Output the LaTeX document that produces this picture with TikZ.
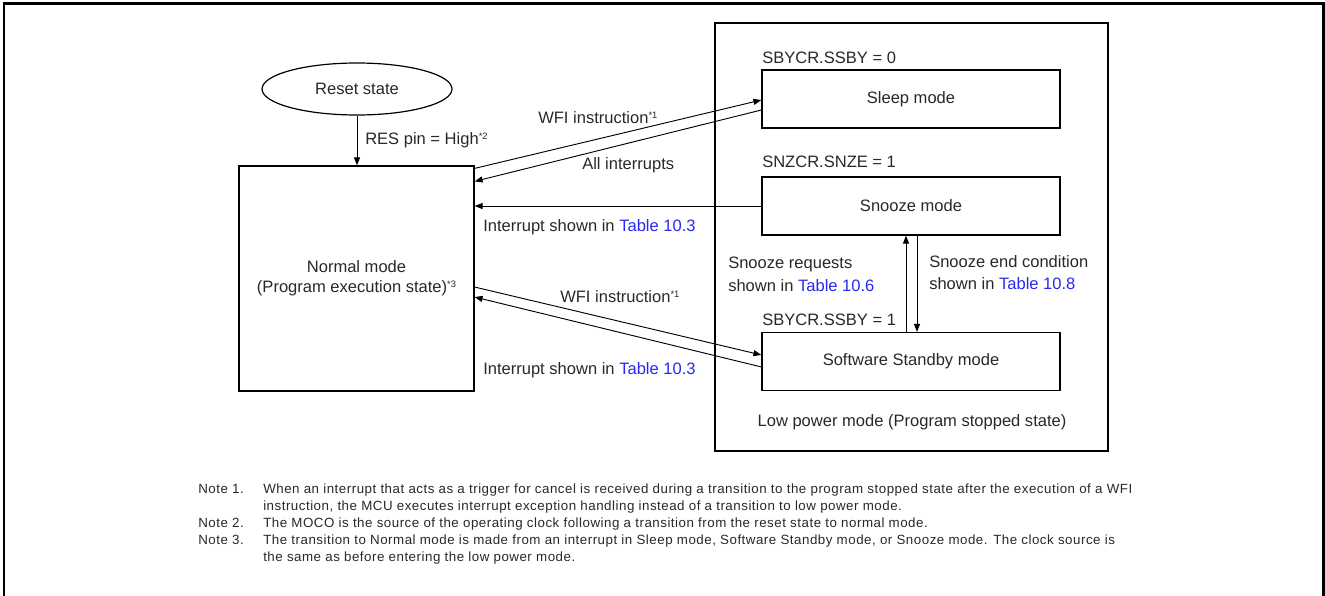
\documentclass[tikz,border=0pt]{standalone}
\usepackage{fontspec}
\setmainfont{Liberation Sans}
\usepackage{tikz}
\usetikzlibrary{positioning,calc,shapes.geometric,arrows.meta}
\definecolor{tableblue}{RGB}{40,40,240}
\definecolor{textgray}{RGB}{40,40,40}
\newcommand{\notemark}[1]{\raisebox{0.6ex}{\fontsize{7pt}{8pt}\selectfont*#1}}
\newcommand{\tabref}[1]{\textcolor{tableblue}{Table #1}}

\begin{document}
\begin{tikzpicture}[x=0.75pt,y=-0.75pt,
  mode/.style={draw=black, line width=0.9pt,
    minimum width=223.5pt, minimum height=43.5pt, inner sep=0pt,
    font=\fontsize{12.4pt}{15pt}\selectfont, text=textgray},
  lbl/.style={font=\fontsize{12.4pt}{17pt}\selectfont, text=textgray,
    inner sep=0pt, anchor=west, align=left},
  trans/.style={-{Triangle[length=6pt,width=4.5pt]}, line width=0.7pt},
  notetext/.style={font=\fontsize{10pt}{12.75pt}\selectfont\addfontfeature{LetterSpace=3.8},
    text=textgray, inner sep=0pt, anchor=north west, align=left}
  ]
  % page frame, open at the bottom
  \useasboundingbox (0,0) rectangle (1325,596);
  \draw[line width=1.7pt] (3.8,596) -- (3.8,3.5) -- (1323.5,3.5) -- (1323.5,596);

  % low power block
  \node[draw, line width=0.9pt, minimum width=294.75pt, minimum height=321pt] (lowpower) at (911.5,237) {};
  \node[lbl, anchor=center] (lowlabel) at (912,422) {Low power mode (Program stopped state)};

  \node[draw, ellipse, line width=0.9pt, minimum width=142.5pt, minimum height=39pt,
    font=\fontsize{12.4pt}{15pt}\selectfont, text=textgray] (reset) at (357,89) {Reset state};
  \node[mode, minimum width=176.25pt, minimum height=168.75pt, align=center] (normal) at (356.5,278.5)
    {Normal mode\\(Program execution state)\notemark{3}};

  \node[mode] (sleep) at (911,99) {Sleep mode};
  \node[mode] (snooze) at (911,206) {Snooze mode};
  \node[mode] (standby) at (911,361.5) {Software Standby mode};

  \node[lbl] (ssby0) at (762,58) {SBYCR.SSBY = 0};
  \node[lbl] (snze1) at (762,162) {SNZCR.SNZE = 1};
  \node[lbl] (ssby1) at (762,320) {SBYCR.SSBY = 1};

  % transitions
  \draw[trans] (reset.south) -- (reset.south |- normal.north);
  \draw[trans] ([yshift=-2.25pt]normal.north east) -- ([yshift=-0.75pt]sleep.west);
  \draw[trans] ([yshift=-8.25pt]sleep.west) -- ([yshift=-12pt]normal.north east);
  \draw[trans] (snooze.west) -- (snooze.west -| normal.east);
  \draw[trans] ([yshift=-6.4pt]normal.east) -- ([yshift=4.9pt]standby.west);
  \draw[trans] ([yshift=-4.1pt]standby.west) -- ([yshift=-13.9pt]normal.east);
  \draw[trans] ([xshift=-3.75pt]standby.north) -- ([xshift=-3.75pt]snooze.south);
  \draw[trans] ([xshift=4.5pt]snooze.south) -- ([xshift=4.5pt]standby.north);

  \node[lbl] (resl) at (365,140) {RES pin = High\notemark{2}};
  \node[lbl] (wfi1) at (538,118) {WFI instruction\notemark{1}};
  \node[lbl] (allint) at (582,165) {All interrupts};
  \node[lbl] (int1) at (483,227) {Interrupt shown in \tabref{10.3}};
  \node[lbl] (wfi2) at (560,297) {WFI instruction\notemark{1}};
  \node[lbl] (int2) at (483,370) {Interrupt shown in \tabref{10.3}};
  \node[lbl] (snzreq) at (728,274.5) {Snooze requests\\shown in \tabref{10.6}};
  \node[lbl] (snzend) at (929,272.5) {Snooze end condition\\shown in \tabref{10.8}};

  % notes
  \node[notetext] (n1) at (198,484) {Note 1.};
  \node[notetext] (n1t) at (263,484) {When an interrupt that acts as a trigger for cancel is received during a transition to the program stopped state after the execution of a WFI\\instruction, the MCU executes interrupt exception handling instead of a transition to low power mode.};
  \node[notetext] (n2) at (198,518) {Note 2.};
  \node[notetext] (n2t) at (263,518) {The MOCO is the source of the operating clock following a transition from the reset state to normal mode.};
  \node[notetext] (n3) at (198,535) {Note 3.};
  \node[notetext] (n3t) at (263,535) {The transition to Normal mode is made from an interrupt in Sleep mode, Software Standby mode, or Snooze mode. The clock source is\\the same as before entering the low power mode.};
\end{tikzpicture}
\end{document}
